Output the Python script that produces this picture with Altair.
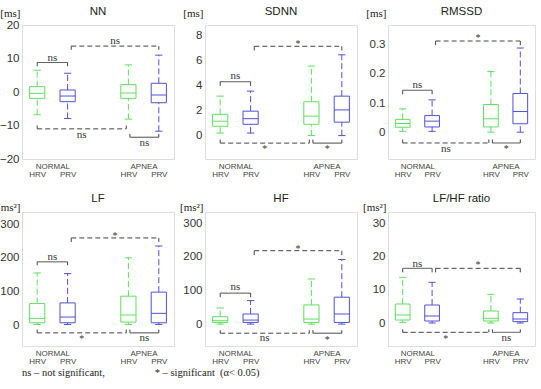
import altair as alt
import pandas as pd

# ---------------- data ----------------
PANELS = ["NN", "SDNN", "RMSSD", "LF", "HF", "LF/HF ratio"]
UNITS = ["[ms]", "[ms]", "[ms]", "[ms²]", "[ms²]", "[ms²]"]

BOX_POS = [1, 2, 4, 5]
BOX_SIG = ["HRV", "PRV", "HRV", "PRV"]
X_TICKS = [1, 1.5, 2, 4, 4.5, 5]

Y_TICKS = {
    "NN": [-20, -10, 0, 10, 20],
    "SDNN": [0, 2, 4, 6, 8],
    "RMSSD": [0, 0.1, 0.2, 0.3],
    "LF": [0, 100, 200, 300],
    "HF": [0, 100, 200, 300],
    "LF/HF ratio": [0, 10, 20, 30],
}
Y_DOMAIN = {
    "NN": [-20, 20],
    "SDNN": [-1.87, 8.83],
    "RMSSD": [-0.092, 0.368],
    "LF": [-62, 336],
    "HF": [-65, 333],
    "LF/HF ratio": [-6.9, 33.3],
}

# box statistics: NORMAL HRV, NORMAL PRV, APNEA HRV, APNEA PRV
LO = {
    "NN": [-6.8, -7.9, -8.1, -11.7],
    "SDNN": [0.2, 0.2, 0.0, 0.0],
    "RMSSD": [0.003, 0.003, 0.0, 0.0],
    "LF": [2, 2, 2, 2],
    "HF": [0, 0, 0, 0],
    "LF/HF ratio": [0.1, 0.0, 0.0, 0.0],
}
Q1 = {
    "NN": [-1.9, -2.9, -1.9, -3.2],
    "SDNN": [0.75, 0.9, 0.9, 1.07],
    "RMSSD": [0.017, 0.018, 0.018, 0.029],
    "LF": [7, 7, 9, 7],
    "HF": [5, 5, 5, 5],
    "LF/HF ratio": [0.9, 0.6, 0.6, 0.4],
}
MED = {
    "NN": [-0.4, -1.2, -0.3, -0.9],
    "SDNN": [1.15, 1.35, 1.55, 2.05],
    "RMSSD": [0.03, 0.038, 0.046, 0.071],
    "LF": [20, 24, 30, 35],
    "HF": [10, 12, 15, 30],
    "LF/HF ratio": [2.4, 2.1, 1.4, 1.2],
}
Q3 = {
    "NN": [1.6, 0.6, 2.2, 2.6],
    "SDNN": [1.7, 1.95, 2.7, 3.15],
    "RMSSD": [0.044, 0.057, 0.095, 0.133],
    "LF": [64, 66, 86, 98],
    "HF": [22, 30, 57, 80],
    "LF/HF ratio": [5.7, 5.4, 3.6, 3.1],
}
HI = {
    "NN": [6.5, 5.6, 8.1, 11.0],
    "SDNN": [3.15, 3.55, 5.55, 6.45],
    "RMSSD": [0.08, 0.111, 0.208, 0.289],
    "LF": [155, 153, 200, 235],
    "HF": [48, 70, 134, 192],
    "LF/HF ratio": [13.7, 12.2, 8.6, 7.2],
}

# significance brackets: NORMAL HRV-PRV, PRV N-A, HRV N-A, APNEA HRV-PRV
BR_X1 = [1, 2.12, 1, 4.05]
BR_X2 = [2, 5, 3.93, 5]
BR_STYLE = ["solid", "dashed", "dashed", "solid"]
BR_Y = {
    "NN": [8.8, 13.7, -11.0, -13.5],
    "SDNN": [4.3, 7.13, -0.6, -0.6],
    "RMSSD": [0.144, 0.313, -0.037, -0.037],
    "LF": [188, 259, -23, -23],
    "HF": [92, 218, -27, -27],
    "LF/HF ratio": [16.4, 16.4, -2.8, -2.8],
}
BR_YT = {
    "NN": [7.7, 12.6, -10.0, -12.5],
    "SDNN": [3.97, 6.8, -0.32, -0.32],
    "RMSSD": [0.13, 0.299, -0.025, -0.025],
    "LF": [178, 247, -13, -13],
    "HF": [80, 205, -18, -18],
    "LF/HF ratio": [15.2, 15.2, -1.9, -1.9],
}
BR_LABEL = {
    "NN": ["ns", "ns", "ns", "ns"],
    "SDNN": ["ns", "*", "*", "*"],
    "RMSSD": ["ns", "*", "ns", "*"],
    "LF": ["ns", "*", "*", "ns"],
    "HF": ["ns", "*", "ns", "*"],
    "LF/HF ratio": ["ns", "*", "*", "ns"],
}
BR_LY = {
    "NN": [10.2, 15.2, -12.9, -15.3],
    "SDNN": [4.75, 7.5, -0.95, -0.95],
    "RMSSD": [0.162, 0.331, -0.056, -0.05],
    "LF": [202, 272, -35, -38],
    "HF": [110, 230, -42, -40],
    "LF/HF ratio": [17.8, 17.9, -4.1, -4.4],
}

LEGEND_TEXT = "ns – not significant," + "\u00a0" * 19 + "* – significant\u00a0\u00a0(α< 0.05)"

# ---------------- styling ----------------
GREEN = "#5fe05f"
BLUE = "#5050d8"
DARK = "#444444"
WIDTHS = [152, 152, 147]
HEIGHT = 134

x_scale = alt.Scale(domain=[0.5, 5.5], nice=False, zero=False)
x_axis = alt.Axis(
    values=X_TICKS,
    labelExpr="datum.value == 1.5 ? 'NORMAL' : datum.value == 4.5 ? 'APNEA' : "
              "(datum.value == 1 || datum.value == 4) ? 'HRV' : 'PRV'",
    labelPadding={"condition": {"test": "datum.value == 1.5 || datum.value == 4.5", "value": 3},
                  "value": 11},
    labelFontSize=8, labelFont="Liberation Sans", labelColor="#444",
    labelOverlap=False, labelFlush=False, ticks=False, domain=False, grid=False, title=None,
)
color = alt.Color("sig:N", scale=alt.Scale(domain=["HRV", "PRV"], range=[GREEN, BLUE]), legend=None)


def make_panel(idx):
    name = PANELS[idx]
    unit = UNITS[idx]
    boxes = pd.DataFrame({
        "pos": BOX_POS, "sig": BOX_SIG,
        "lo": LO[name], "q1": Q1[name], "med": MED[name], "q3": Q3[name], "hi": HI[name],
    })
    brackets = pd.DataFrame({
        "x1": BR_X1, "x2": BR_X2, "style": BR_STYLE,
        "y": BR_Y[name], "yt": BR_YT[name], "label": BR_LABEL[name], "ly": BR_LY[name],
    })
    y_scale = alt.Scale(domain=Y_DOMAIN[name], nice=False, zero=False)
    y_axis = alt.Axis(
        values=Y_TICKS[name], format="~r", title=unit,
        titleAngle=0, titleAlign="right", titleBaseline="middle",
        titleX=-2, titleY=-12 if idx < 3 else -5,
        titleFont="Liberation Serif", titleFontSize=11, titleFontWeight="normal", titleColor="#222",
        labelFont="Liberation Sans", labelFontSize=11.5, labelColor="#333", labelPadding=3,
        ticks=False, domain=False, grid=False,
    )

    def X(f):
        return alt.X(f, type="quantitative", scale=x_scale, axis=x_axis)

    def Y(f):
        return alt.Y(f, type="quantitative", scale=y_scale, axis=y_axis)

    base = alt.Chart(boxes).transform_calculate(
        xl="datum.pos - 0.25", xr="datum.pos + 0.25",
        cl="datum.pos - 0.12", cr="datum.pos + 0.12",
    )
    wh_up = base.mark_rule(strokeDash=[6, 3], strokeWidth=1).encode(x=X("pos"), y=Y("q3"), y2="hi", color=color)
    wh_lo = base.mark_rule(strokeDash=[6, 3], strokeWidth=1).encode(x=X("pos"), y=Y("lo"), y2="q1", color=color)
    cap_hi = base.mark_rule(strokeWidth=1).encode(x=X("cl"), x2="cr", y=Y("hi"), color=color)
    cap_lo = base.mark_rule(strokeWidth=1).encode(x=X("cl"), x2="cr", y=Y("lo"), color=color)
    box = base.mark_rect(fill="white", strokeWidth=1).encode(
        x=X("xl"), x2="xr", y=Y("q1"), y2="q3",
        stroke=alt.Stroke("sig:N", scale=alt.Scale(domain=["HRV", "PRV"], range=[GREEN, BLUE]), legend=None),
    )
    med = base.mark_rule(strokeWidth=1).encode(x=X("xl"), x2="xr", y=Y("med"), color=color)

    bbase = alt.Chart(brackets)
    hline = bbase.mark_rule(color=DARK, strokeWidth=1).encode(
        x=X("x1"), x2="x2", y=Y("y"),
        strokeDash=alt.StrokeDash("style:N", scale=alt.Scale(domain=["solid", "dashed"], range=[[1, 0], [5, 3]]), legend=None),
    )
    tick_l = bbase.mark_rule(color=DARK, strokeWidth=1).encode(x=X("x1"), y=Y("y"), y2="yt")
    tick_r = bbase.mark_rule(color=DARK, strokeWidth=1).encode(x=X("x2"), y=Y("y"), y2="yt")
    lbase = bbase.transform_calculate(xm="(datum.x1 + datum.x2) / 2")
    ns_txt = lbase.transform_filter("datum.label == 'ns'").mark_text(
        font="Liberation Serif", fontSize=11, color="#333", baseline="middle"
    ).encode(x=X("xm"), y=Y("ly"), text="label:N")
    st_txt = lbase.transform_filter("datum.label == '*'").mark_text(
        font="Liberation Serif", fontSize=10, color="#333", baseline="middle", dy=2
    ).encode(x=X("xm"), y=Y("ly"), text="label:N")

    return alt.layer(
        hline, tick_l, tick_r, ns_txt, st_txt, wh_up, wh_lo, cap_hi, cap_lo, box, med
    ).properties(
        width=WIDTHS[idx % 3], height=HEIGHT,
        title=alt.TitleParams(name, font="Liberation Sans", fontSize=11.5, fontWeight="normal",
                              color="#222", offset=4, dy=14 if idx < 3 else 7),
    )


chart = alt.concat(
    *[make_panel(i) for i in range(6)], columns=3,
    spacing={"row": 53, "column": 31}, bounds="flush",
).properties(
    padding={"left": -4, "top": 5, "right": 0, "bottom": 0},
    title=alt.TitleParams(LEGEND_TEXT, orient="bottom", anchor="start", font="Liberation Serif",
                          fontSize=10.5, fontWeight="normal", color="#222", offset=2, dx=26),
).configure_view(stroke="#8c8c8c", strokeWidth=1.5).configure(background="white")

chart.save("out.html", embed_options={"renderer": "svg", "actions": False})
